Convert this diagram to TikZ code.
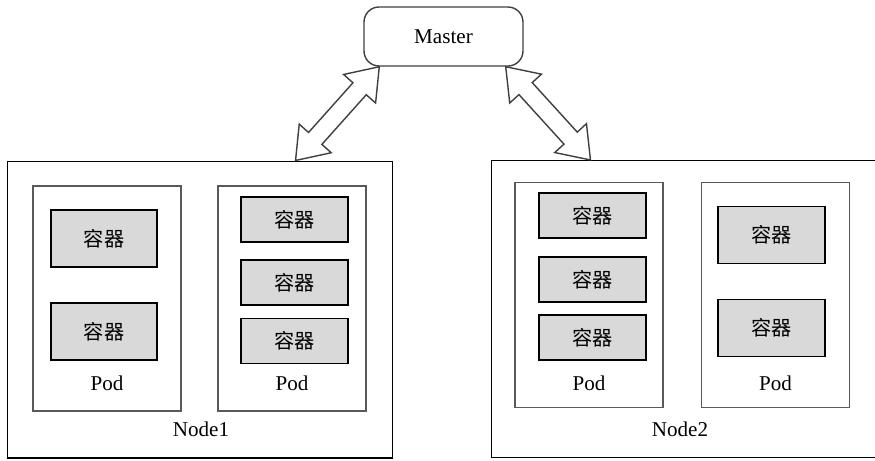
\documentclass[tikz,border=0pt]{standalone}
\usepackage{fontspec}
\setmainfont{Liberation Serif}
\newfontfamily\cjk{Noto Sans CJK SC}
\usetikzlibrary{shapes.arrows,calc}

\begin{document}
\begin{tikzpicture}[x=0.02cm,y=-0.02cm,
    font=\fontsize{12}{14}\selectfont,
    host/.style={draw=black,line width=0.6pt,minimum width=7.72cm,minimum height=5.94cm},
    pod/.style={draw=black!65,line width=1pt,minimum width=2.96cm,minimum height=4.5cm},
    box/.style={draw=black,line width=1.1pt,fill=black!15,minimum width=2.13cm,font=\cjk\fontsize{11.5}{13}\selectfont},
    big/.style={box,minimum height=1.14cm},
    small/.style={box,minimum height=0.9cm},
    link/.style={double arrow,draw=black!75,line width=0.8pt,fill=white,inner xsep=0pt,inner ysep=0.165cm,
      double arrow head extend=0.25cm,double arrow tip angle=72}]
  \clip (0,0) rectangle (875,460);
  % master
  \node[draw=black!75,line width=0.8pt,rounded corners=0.3cm,minimum width=3.18cm,minimum height=1.18cm] (master) at (443.5,36.5) {Master};
  % worker nodes
  \node[host] (node1) at (200,309.5) {};
  \node[host,minimum width=7.8cm] (node2) at (686,309) {};
  \node (node1lbl) at (201,429) {Node1};
  \node (node2lbl) at (680,429) {Node2};
  % pods
  \node[pod] (pod1) at (107,298.5) {};
  \node[pod] (pod2) at (292,298.5) {};
  \node[pod] (pod3) at (589,295) {};
  \node[pod] (pod4) at (775.5,295) {};
  \node (pod1lbl) at (107,383) {Pod};
  \node (pod2lbl) at (292,383) {Pod};
  \node (pod3lbl) at (589,383) {Pod};
  \node (pod4lbl) at (775.5,383) {Pod};
  % containers
  \node[big] (c11) at (104,238.5) {容器};
  \node[big] (c12) at (104,331.5) {容器};
  \node[small] (c21) at (294.5,219.5) {容器};
  \node[small] (c22) at (294.5,282.5) {容器};
  \node[small] (c23) at (294.5,341) {容器};
  \node[small] (c31) at (592.5,215.5) {容器};
  \node[small] (c32) at (592.5,279.5) {容器};
  \node[small] (c33) at (592.5,337.5) {容器};
  \node[big] (c41) at (771.5,235) {容器};
  \node[big] (c42) at (771.5,328) {容器};
  % links to master
  \path let \p1=([xshift=0.32cm]master.south west), \p2=([xshift=-1.96cm]node1.north east),
    \n1={atan2(\y1-\y2,\x1-\x2)}, \n2={veclen(\x1-\x2,\y1-\y2)} in
    node[link,rotate=\n1,minimum height=\n2] (link1) at ($(\p1)!0.5!(\p2)$) {};
  \path let \p1=([xshift=-0.36cm]master.south east), \p2=([xshift=2cm]node2.north west),
    \n1={atan2(\y1-\y2,\x1-\x2)}, \n2={veclen(\x1-\x2,\y1-\y2)} in
    node[link,rotate=\n1,minimum height=\n2] (link2) at ($(\p1)!0.5!(\p2)$) {};
\end{tikzpicture}
\end{document}
